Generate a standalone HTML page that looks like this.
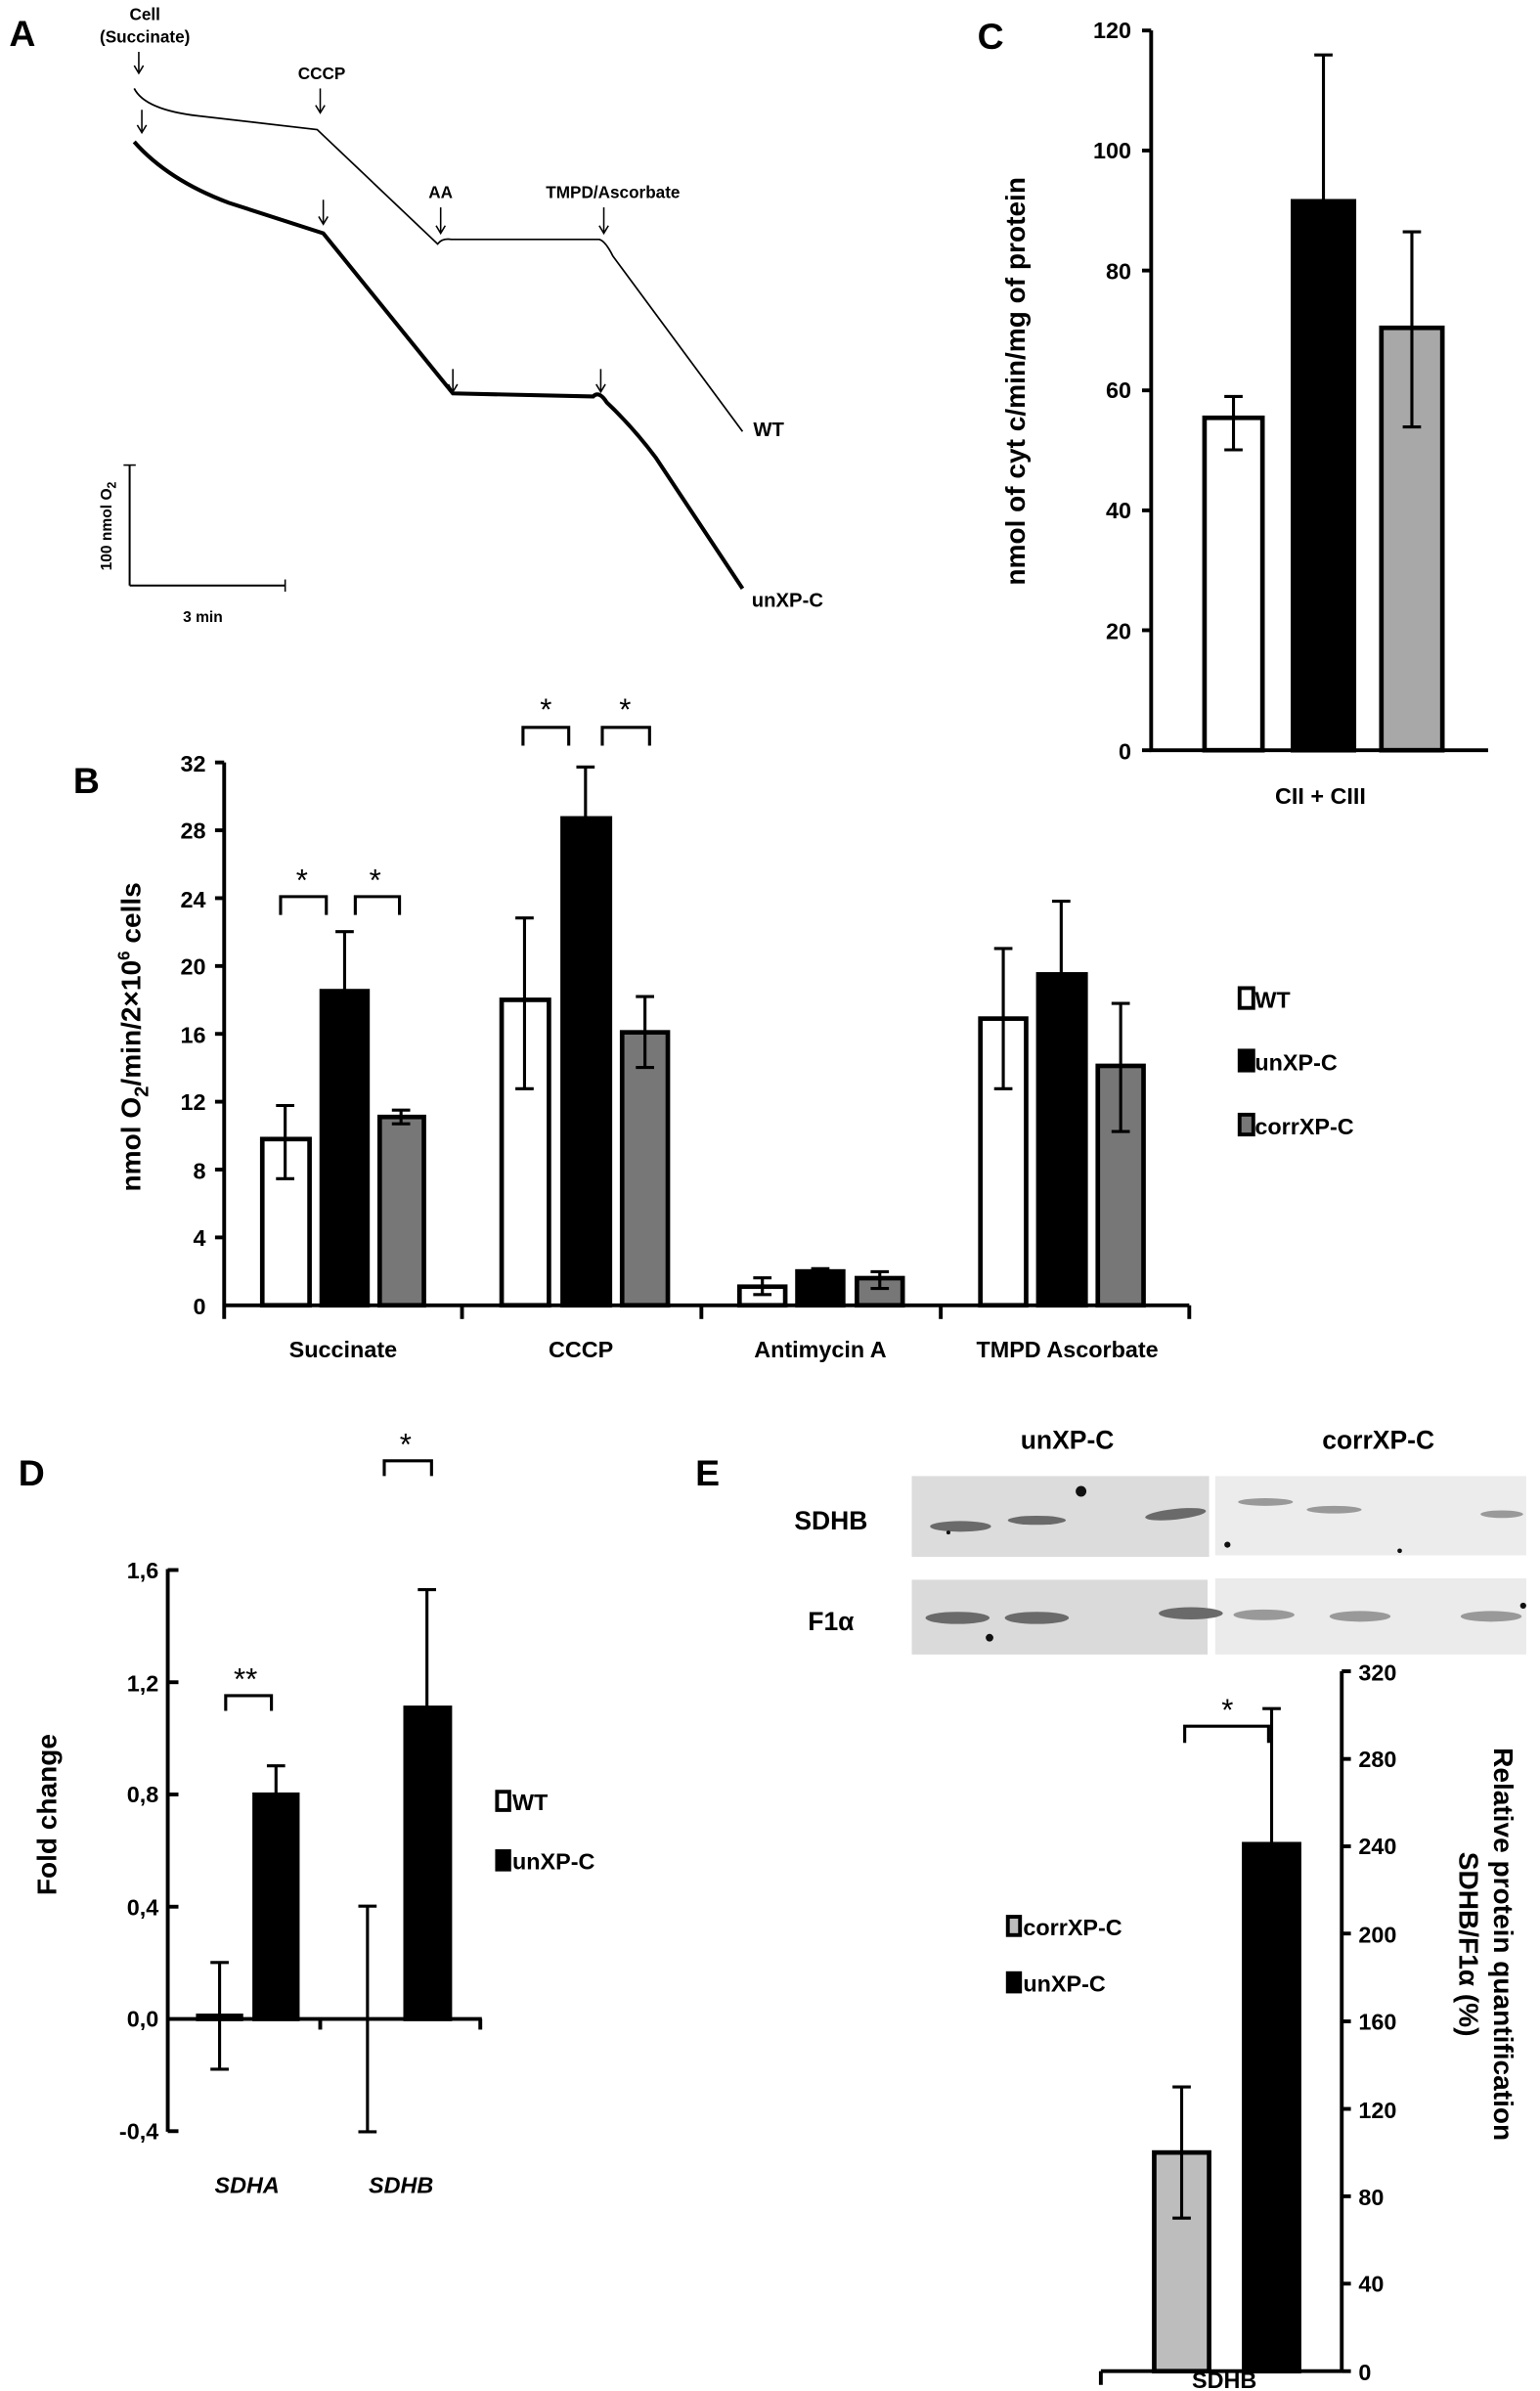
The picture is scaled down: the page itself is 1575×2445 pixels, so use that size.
<!DOCTYPE html>
<html><head><meta charset="utf-8"><style>
html,body{margin:0;padding:0;background:#fff}
svg{display:block}
text{font-family:"Liberation Sans",sans-serif;font-weight:bold;fill:#000}
</style></head><body>
<svg width="1575" height="2445" viewBox="0 0 1010 1568" xmlns="http://www.w3.org/2000/svg">
<!-- Panel A -->
<text x="6" y="30" font-size="24">A</text>
<text x="95" y="13" font-size="11" text-anchor="middle">Cell</text>
<text x="95" y="28" font-size="11" text-anchor="middle">(Succinate)</text>
<text x="211" y="52" font-size="11" text-anchor="middle">CCCP</text>
<text x="289" y="130" font-size="11" text-anchor="middle">AA</text>
<text x="402" y="130" font-size="11" text-anchor="middle">TMPD/Ascorbate</text>
<g stroke="#000" stroke-width="1" fill="none">
<line x1="91" y1="34" x2="91" y2="47"/><path d="M88,43 L91,48 L94,43"/>
<line x1="210" y1="58" x2="210" y2="73"/><path d="M207,69 L210,74 L213,69"/>
<line x1="289" y1="136" x2="289" y2="152"/><path d="M286,148 L289,153 L292,148"/>
<line x1="396" y1="136" x2="396" y2="152"/><path d="M393,148 L396,153 L399,148"/>
<line x1="93" y1="72" x2="93" y2="86"/><path d="M90,82 L93,87 L96,82"/>
<line x1="212" y1="131" x2="212" y2="146"/><path d="M209,142 L212,147 L215,142"/>
<line x1="297" y1="242" x2="297" y2="256"/><path d="M294,252 L297,257 L300,252"/>
<line x1="394" y1="242" x2="394" y2="256"/><path d="M391,252 L394,257 L397,252"/>
</g>
<path d="M88,58 Q95,72 130,76 L208,85 L287,160 Q290,156 296,157 L393,157 Q397,158 402,168 L487,283" fill="none" stroke="#000" stroke-width="1.1"/>
<path d="M88,93 Q110,118 150,133 L212,153 L297,258 L389,260 Q393,256 398,264 Q415,280 430,300 L487,386" fill="none" stroke="#000" stroke-width="2.6"/>
<text x="494" y="286" font-size="13">WT</text>
<text x="493" y="398" font-size="13">unXP-C</text>
<line x1="85" y1="305" x2="85" y2="384" stroke="#000" stroke-width="1.3"/>
<line x1="85" y1="384" x2="187" y2="384" stroke="#000" stroke-width="1.3"/>
<line x1="187" y1="380" x2="187" y2="388" stroke="#000" stroke-width="1"/>
<line x1="81" y1="305" x2="89" y2="305" stroke="#000" stroke-width="1"/>
<text transform="translate(73,345) rotate(-90)" font-size="10" text-anchor="middle">100 nmol O<tspan font-size="8" dy="3">2</tspan></text>
<text x="133" y="408" font-size="10" text-anchor="middle">3 min</text>

<!-- Panel C -->
<text x="641" y="32" font-size="24">C</text>
<g stroke="#000" stroke-width="2.5">
<line x1="755" y1="20" x2="755" y2="493"/>
<line x1="754" y1="492" x2="976" y2="492"/>
<line x1="749" y1="20" x2="755" y2="20"/><line x1="749" y1="98.7" x2="755" y2="98.7"/><line x1="749" y1="177.4" x2="755" y2="177.4"/><line x1="749" y1="256" x2="755" y2="256"/><line x1="749" y1="334.7" x2="755" y2="334.7"/><line x1="749" y1="413.3" x2="755" y2="413.3"/><line x1="749" y1="492" x2="755" y2="492"/>
</g>
<g font-size="15" text-anchor="end">
<text x="742" y="25">120</text><text x="742" y="104">100</text><text x="742" y="183">80</text><text x="742" y="261">60</text><text x="742" y="340">40</text><text x="742" y="419">20</text><text x="742" y="498">0</text>
</g>
<text transform="translate(672,250) rotate(-90)" font-size="18" text-anchor="middle">nmol of cyt c/min/mg of protein</text>
<g stroke="#000" stroke-width="3">
<rect x="790" y="274" width="38" height="218" fill="#fff"/>
<rect x="848" y="132" width="40" height="360" fill="#000"/>
<rect x="906" y="215" width="40" height="277" fill="#a8a8a8"/>
</g>
<g stroke="#000" stroke-width="2">
<line x1="809" y1="295" x2="809" y2="260"/><line x1="803" y1="295" x2="815" y2="295"/><line x1="803" y1="260" x2="815" y2="260"/>
<line x1="868" y1="132" x2="868" y2="36"/><line x1="862" y1="36" x2="874" y2="36"/>
<line x1="926" y1="280" x2="926" y2="152"/><line x1="920" y1="280" x2="932" y2="280"/><line x1="920" y1="152" x2="932" y2="152"/>
</g>
<text x="866" y="527" font-size="15" text-anchor="middle">CII + CIII</text>

<!-- Panel B -->
<text x="48" y="520" font-size="24">B</text>
<g stroke="#000" stroke-width="2.5">
<line x1="147" y1="500" x2="147" y2="865"/>
<line x1="147" y1="856" x2="780" y2="856"/>
<line x1="303" y1="856" x2="303" y2="865"/><line x1="460" y1="856" x2="460" y2="865"/><line x1="617" y1="856" x2="617" y2="865"/><line x1="780" y1="856" x2="780" y2="865"/>
<line x1="141" y1="500" x2="147" y2="500"/><line x1="141" y1="544.5" x2="147" y2="544.5"/><line x1="141" y1="589" x2="147" y2="589"/><line x1="141" y1="633.5" x2="147" y2="633.5"/><line x1="141" y1="678" x2="147" y2="678"/><line x1="141" y1="722.5" x2="147" y2="722.5"/><line x1="141" y1="767" x2="147" y2="767"/><line x1="141" y1="811.5" x2="147" y2="811.5"/>
</g>
<g font-size="15" text-anchor="end">
<text x="135" y="506">32</text><text x="135" y="550">28</text><text x="135" y="595">24</text><text x="135" y="639">20</text><text x="135" y="684">16</text><text x="135" y="728">12</text><text x="135" y="773">8</text><text x="135" y="817">4</text><text x="135" y="862">0</text>
</g>
<text transform="translate(92,680) rotate(-90)" font-size="18" text-anchor="middle">nmol O<tspan font-size="13" dy="5">2</tspan><tspan dy="-5">/min/2×10</tspan><tspan font-size="11" dy="-7">6</tspan><tspan dy="7"> cells</tspan></text>
<g stroke="#000" stroke-width="3">
<rect x="172" y="747" width="31" height="109" fill="#fff"/>
<rect x="211" y="650" width="30" height="206" fill="#000"/>
<rect x="249" y="732.5" width="29" height="123.5" fill="#777"/>
<rect x="329" y="655.7" width="31" height="200.3" fill="#fff"/>
<rect x="369" y="536.7" width="31" height="319.3" fill="#000"/>
<rect x="408" y="677" width="30" height="179" fill="#777"/>
<rect x="485" y="843.8" width="30" height="12.2" fill="#fff"/>
<rect x="523" y="833.8" width="30" height="22.2" fill="#000"/>
<rect x="562" y="838.2" width="30" height="17.8" fill="#777"/>
<rect x="643" y="668" width="30" height="188" fill="#fff"/>
<rect x="681" y="639" width="31" height="217" fill="#000"/>
<rect x="720" y="699" width="30" height="157" fill="#777"/>
</g>
<g stroke="#000" stroke-width="2" fill="none">
<path d="M187,773 V725 M181,773 H193 M181,725 H193"/>
<path d="M226,650 V611 M220,611 H232"/>
<path d="M263,737 V728 M257,737 H269 M257,728 H269"/>
<path d="M344,714 V602 M338,714 H350 M338,602 H350"/>
<path d="M384,537 V503 M378,503 H390"/>
<path d="M423,700 V653.5 M417,700 H429 M417,653.5 H429"/>
<path d="M500,849 V838 M494,849 H506 M494,838 H506"/>
<path d="M538,834 V832 M532,832 H544"/>
<path d="M577,845 V834 M571,845 H583 M571,834 H583"/>
<path d="M658,714 V622 M652,714 H664 M652,622 H664"/>
<path d="M696,639 V591 M690,591 H702"/>
<path d="M735,742 V658 M729,742 H741 M729,658 H741"/>
<path d="M184,600 V588 H214 V600"/><path d="M233,600 V588 H262 V600"/>
<path d="M343,489 V477 H373 V489"/><path d="M395,489 V477 H426 V489"/>
</g>
<g font-size="20" text-anchor="middle">
<text x="198" y="584" style="font-weight:normal">*</text><text x="246" y="584" style="font-weight:normal">*</text>
<text x="358" y="472" style="font-weight:normal">*</text><text x="410" y="472" style="font-weight:normal">*</text>
</g>
<g font-size="15" text-anchor="middle">
<text x="225" y="890">Succinate</text><text x="381" y="890">CCCP</text><text x="538" y="890">Antimycin A</text><text x="700" y="890">TMPD Ascorbate</text>
</g>
<g stroke="#000" stroke-width="2.5">
<rect x="813" y="648" width="9" height="13" fill="#fff"/>
<rect x="813" y="689" width="9" height="13" fill="#000"/>
<rect x="813" y="731" width="9" height="13" fill="#777"/>
</g>
<g font-size="15"><text x="823" y="661">WT</text><text x="823" y="702">unXP-C</text><text x="823" y="744">corrXP-C</text></g>

<!-- Panel D -->
<text x="12" y="974" font-size="24">D</text>
<g stroke="#000" stroke-width="2.5">
<line x1="110" y1="1029" x2="110" y2="1398"/>
<line x1="110" y1="1324" x2="316" y2="1324"/>
<line x1="210" y1="1324" x2="210" y2="1331"/><line x1="315" y1="1324" x2="315" y2="1331"/>
<line x1="110" y1="1029.6" x2="117" y2="1029.6"/><line x1="110" y1="1103.2" x2="117" y2="1103.2"/><line x1="110" y1="1176.8" x2="117" y2="1176.8"/><line x1="110" y1="1250.4" x2="117" y2="1250.4"/><line x1="110" y1="1397.6" x2="117" y2="1397.6"/>
</g>
<g font-size="15" text-anchor="end">
<text x="104" y="1035">1,6</text><text x="104" y="1109">1,2</text><text x="104" y="1182">0,8</text><text x="104" y="1256">0,4</text><text x="104" y="1329">0,0</text><text x="104" y="1403">-0,4</text>
</g>
<text transform="translate(37,1190) rotate(-90)" font-size="18" text-anchor="middle">Fold change</text>
<g stroke="#000" stroke-width="3">
<rect x="130" y="1322" width="28" height="2" fill="#fff"/>
<rect x="167" y="1177" width="28" height="147" fill="#000"/>
<rect x="266" y="1120" width="29" height="204" fill="#000"/>
</g>
<g stroke="#000" stroke-width="2" fill="none">
<path d="M144,1357 V1287 M138,1357 H150 M138,1287 H150"/>
<path d="M181,1177 V1158 M175,1158 H187"/>
<path d="M241,1398 V1250 M235,1398 H247 M235,1250 H247"/>
<path d="M280,1120 V1042.5 M274,1042.5 H286"/>
<path d="M148,1122 V1112 H178 V1122"/>
<path d="M252,968 V958 H283 V968"/>
</g>
<text x="161" y="1108" font-size="20" text-anchor="middle" style="font-weight:normal">**</text>
<text x="266" y="954" font-size="20" text-anchor="middle" style="font-weight:normal">*</text>
<text x="162" y="1438" font-size="15" text-anchor="middle" font-style="italic">SDHA</text>
<text x="263" y="1438" font-size="15" text-anchor="middle" font-style="italic">SDHB</text>
<g stroke="#000" stroke-width="2.5">
<rect x="326" y="1175" width="8" height="12" fill="#fff"/>
<rect x="326" y="1214" width="8" height="12" fill="#000"/>
</g>
<g font-size="15"><text x="336" y="1187">WT</text><text x="336" y="1226">unXP-C</text></g>

<!-- Panel E -->
<text x="456" y="974" font-size="24">E</text>
<text x="700" y="950" font-size="17" text-anchor="middle">unXP-C</text>
<text x="904" y="950" font-size="17" text-anchor="middle">corrXP-C</text>
<text x="545" y="1003" font-size="17" text-anchor="middle">SDHB</text>
<text x="545" y="1069" font-size="17" text-anchor="middle">F1α</text>
<rect x="598" y="968" width="195" height="53" fill="#dcdcdc"/>
<rect x="797" y="968" width="204" height="52" fill="#ececec"/>
<rect x="598" y="1036" width="194" height="49" fill="#dadada"/>
<rect x="797" y="1035" width="204" height="50" fill="#ebebeb"/>
<g fill="#6a6a6a">
<ellipse cx="630" cy="1001" rx="20" ry="3.5"/><ellipse cx="680" cy="997" rx="19" ry="3"/><ellipse cx="771" cy="993" rx="20" ry="3.5" transform="rotate(-6 771 993)"/>
<ellipse cx="628" cy="1061" rx="21" ry="4"/><ellipse cx="680" cy="1061" rx="21" ry="4"/><ellipse cx="781" cy="1058" rx="21" ry="4"/>
</g>
<g fill="#999">
<ellipse cx="830" cy="985" rx="18" ry="2.5"/><ellipse cx="875" cy="990" rx="18" ry="2.5"/><ellipse cx="985" cy="993" rx="14" ry="2.5"/>
<ellipse cx="829" cy="1059" rx="20" ry="3.5"/><ellipse cx="892" cy="1060" rx="20" ry="3.5"/><ellipse cx="978" cy="1060" rx="20" ry="3.5"/>
</g>
<g fill="#111"><circle cx="709" cy="978" r="3.5"/><circle cx="805" cy="1013" r="2"/><circle cx="918" cy="1017" r="1.5"/><circle cx="622" cy="1005" r="1.3"/><circle cx="649" cy="1074" r="2.5"/><circle cx="999" cy="1053" r="2"/></g>
<g stroke="#000" stroke-width="2.5">
<line x1="880" y1="1096" x2="880" y2="1556"/>
<line x1="722" y1="1555" x2="880" y2="1555"/>
<line x1="722" y1="1555" x2="722" y2="1564"/>
<line x1="880" y1="1096" x2="886" y2="1096"/><line x1="880" y1="1153.5" x2="886" y2="1153.5"/><line x1="880" y1="1210.8" x2="886" y2="1210.8"/><line x1="880" y1="1268" x2="886" y2="1268"/><line x1="880" y1="1325.6" x2="886" y2="1325.6"/><line x1="880" y1="1383" x2="886" y2="1383"/><line x1="880" y1="1440.3" x2="886" y2="1440.3"/><line x1="880" y1="1497.6" x2="886" y2="1497.6"/><line x1="880" y1="1555" x2="886" y2="1555"/>
</g>
<g font-size="15">
<text x="891" y="1102">320</text><text x="891" y="1159">280</text><text x="891" y="1216">240</text><text x="891" y="1274">200</text><text x="891" y="1331">160</text><text x="891" y="1389">120</text><text x="891" y="1446">80</text><text x="891" y="1503">40</text><text x="891" y="1561">0</text>
</g>
<text transform="translate(980,1275) rotate(90)" font-size="18" text-anchor="middle">Relative protein quantification</text>
<text transform="translate(957,1275) rotate(90)" font-size="18" text-anchor="middle">SDHB/F1α (%)</text>
<g stroke="#000" stroke-width="3">
<rect x="757" y="1411.6" width="36" height="143.4" fill="#bdbdbd"/>
<rect x="816" y="1209.4" width="36" height="345.6" fill="#000"/>
</g>
<g stroke="#000" stroke-width="2" fill="none">
<path d="M775,1454.6 V1368.6 M769,1454.6 H781 M769,1368.6 H781"/>
<path d="M834,1209 V1120.5 M828,1120.5 H840"/>
<path d="M777,1143 V1132 H832 V1143"/>
</g>
<text x="805" y="1128" font-size="20" text-anchor="middle" style="font-weight:normal">*</text>
<g stroke="#000" stroke-width="2.5">
<rect x="661" y="1257" width="8" height="12" fill="#bdbdbd"/>
<rect x="661" y="1294" width="8" height="12" fill="#000"/>
</g>
<g font-size="15"><text x="671" y="1269">corrXP-C</text><text x="671" y="1306">unXP-C</text></g>
<text x="803" y="1566" font-size="15" text-anchor="middle">SDHB</text>
</svg>
</body></html>
